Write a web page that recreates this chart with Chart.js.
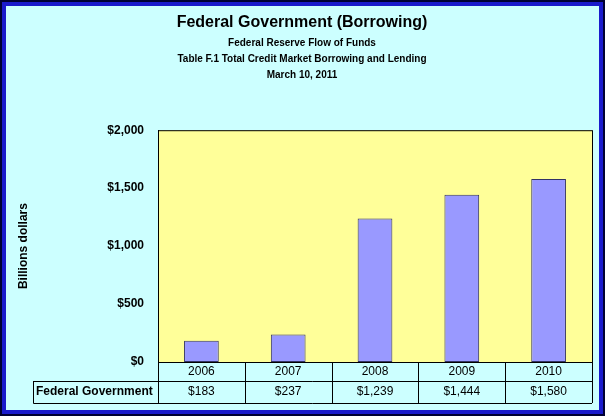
<!DOCTYPE html>
<html>
<head>
<meta charset="utf-8">
<script src="https://cdn.jsdelivr.net/npm/chart.js@4"></script>
<style>
  html, body { margin: 0; padding: 0; }
  #wrap { width: 605px; height: 416px; }
</style>
</head>
<body>
<div id="wrap"><canvas id="chart" width="605" height="416"></canvas></div>
<script>
const years = ['2006', '2007', '2008', '2009', '2010'];
const borrowing = [183, 237, 1239, 1444, 1580];
const valueLabels = ['$183', '$237', '$1,239', '$1,444', '$1,580'];
const seriesName = 'Federal Government';

// background + double border
const frame = {
  id: 'frame',
  beforeDraw(chart) {
    const c = chart.ctx;
    c.save();
    c.fillStyle = '#000033';
    c.fillRect(0, 0, 605, 416);
    c.fillStyle = '#1a1acc';
    c.fillRect(2, 2, 601, 412);
    c.fillStyle = '#ccffff';
    c.fillRect(6, 6, 593, 404);
    const a = chart.chartArea;
    c.fillStyle = '#ffff99';
    c.fillRect(a.left, a.top, a.right - a.left, a.bottom - a.top);
    c.restore();
  },
  afterDraw(chart) {
    const c = chart.ctx;
    const a = chart.chartArea;
    const x = chart.scales.x;
    const rowMid = a.bottom + 19, rowBot = 403;
    c.save();
    c.strokeStyle = '#000';
    c.lineWidth = 1;
    c.strokeRect(a.left + 0.5, a.top + 0.5, a.right - a.left, a.bottom - a.top);
    c.beginPath();
    const step = (a.right - a.left) / years.length;
    for (let i = 0; i <= years.length; i++) {
      const px = Math.round(a.left + i * step) + 0.5;
      c.moveTo(px, a.bottom); c.lineTo(px, rowBot);
    }
    c.moveTo(33.5, rowMid + 0.5); c.lineTo(a.right, rowMid + 0.5);
    c.moveTo(33.5, rowBot + 0.5); c.lineTo(a.right, rowBot + 0.5);
    c.moveTo(33.5, rowMid); c.lineTo(33.5, rowBot + 0.5);
    c.stroke();
    c.fillStyle = '#000';
    c.font = '12px Arial, "Liberation Sans"';
    c.textAlign = 'center';
    c.textBaseline = 'middle';
    years.forEach((y, i) => {
      const cx = x.getPixelForValue(i);
      c.fillText(y, cx, a.bottom + 10);
      c.fillText(valueLabels[i], cx, rowMid + 11);
    });
    c.textAlign = 'left';
    c.font = 'bold 12px Arial, "Liberation Sans"';
    c.fillText(seriesName, 36, rowMid + 11);
    c.restore();
  }
};

new Chart(document.getElementById('chart'), {
  type: 'bar',
  data: {
    labels: years,
    datasets: [{
      label: seriesName,
      data: borrowing,
      backgroundColor: '#9999ff',
      borderColor: '#333366',
      borderWidth: 1,
      borderSkipped: false,
      categoryPercentage: 1,
      barPercentage: 0.4
    }]
  },
  plugins: [frame],
  options: {
    responsive: false,
    animation: false,
    layout: { padding: { left: 12, right: 13, bottom: 54, top: 0 } },
    plugins: {
      legend: { display: false },
      tooltip: { enabled: false },
      title: {
        display: true,
        text: 'Federal Government (Borrowing)',
        color: '#000',
        font: { family: 'Arial, "Liberation Sans"', size: 16, weight: 'bold' },
        padding: { top: 13, bottom: 3 }
      },
      subtitle: {
        display: true,
        text: ['Federal Reserve Flow of Funds', 'Table F.1 Total Credit Market Borrowing and Lending', 'March 10, 2011'],
        color: '#000',
        font: { family: 'Arial, "Liberation Sans"', size: 10, weight: 'bold', lineHeight: 1.6 },
        padding: { top: 0, bottom: 47 }
      }
    },
    scales: {
      x: { display: false },
      y: {
        min: 0, max: 2000,
        ticks: {
          stepSize: 500,
          color: '#000',
          font: { family: 'Arial, "Liberation Sans"', size: 12, weight: 'bold' },
          callback: v => '$' + v.toLocaleString('en-US'),
          padding: 6
        },
        grid: { display: false, drawTicks: true },
        border: { display: true, color: '#000' },
        title: {
          display: true,
          text: 'Billions dollars',
          color: '#000',
          font: { family: 'Arial, "Liberation Sans"', size: 12, weight: 'bold' }
        },
        afterFit(scale) { scale.width = 146; }
      }
    }
  }
});
</script>
</body>
</html>
